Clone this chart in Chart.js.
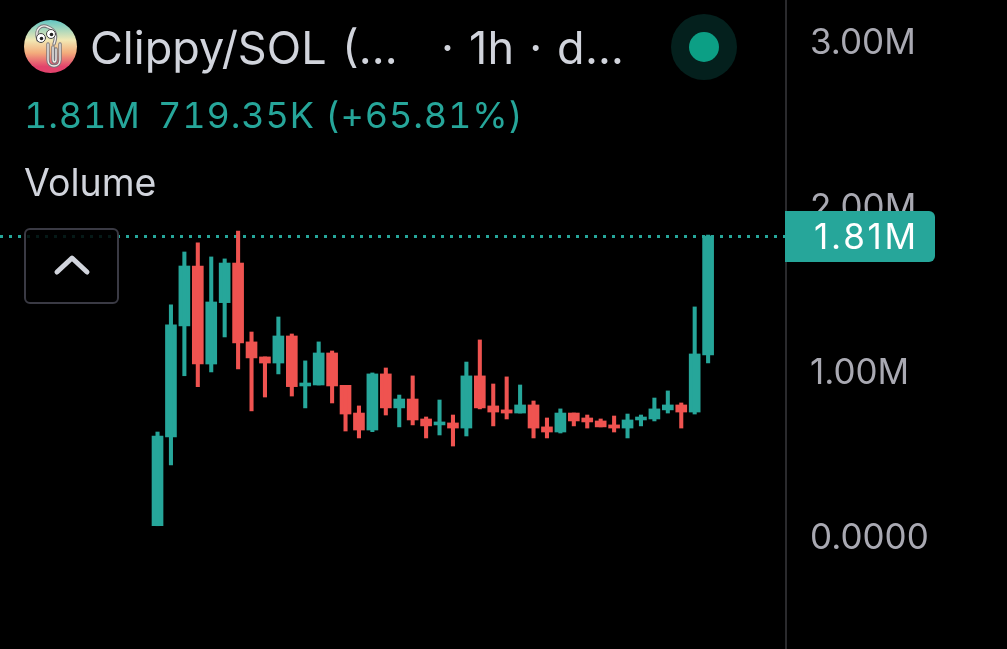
<!DOCTYPE html>
<html>
<head>
<meta charset="utf-8">
<title>Clippy/SOL Volume</title>
<script src="https://cdn.jsdelivr.net/npm/chart.js@4"></script>
<style>
    html, body { margin: 0; padding: 0; background: #000; }
    #wrap { position: relative; width: 1007px; height: 649px; overflow: hidden; font-family: Inter, sans-serif; }
    #chart { position: absolute; left: 0; top: 0; }
    .txt { position: absolute; white-space: nowrap; line-height: 1; }
    .title { color: #d1d4dc; font-size: 45px; top: 25px; }
    .stat { color: #26a69a; font-size: 36px; top: 97px; letter-spacing: 0.9px; font-feature-settings: 'tnum'; }
    #volume { left: 24px; top: 164px; color: #d1d4dc; font-size: 37.5px; }
    #logo { position: absolute; left: 24px; top: 20px; width: 53px; height: 53px; border-radius: 50%;
        background: linear-gradient(#62c6c4 0%, #f2e8b4 38%, #f3ad7c 62%, #e2436c 88%, #e2436c 100%); }
    #collapse { position: absolute; left: 24px; top: 228px; width: 91px; height: 72px; border: 2px solid #3a3a44;
        border-radius: 6px; background: rgba(0, 0, 0, 0.85); }
    #status { position: absolute; left: 671px; top: 14px; width: 66px; height: 66px; border-radius: 50%; background: #04201d; }
    #status div { position: absolute; left: 18px; top: 18px; width: 30px; height: 30px; border-radius: 50%; background: #0c9f85; }
</style>
</head>
<body>
<div id="wrap">
    <canvas id="chart" width="1007" height="649"></canvas>
    <div id="logo">
        <svg width="53" height="53" viewBox="0 0 53 53" fill="none" stroke-linecap="round">
            <g stroke="#77757a" stroke-width="3.4">
                <path d="M14 20 C10 8 18 4 24 7 C32 10 33 16 30 24"/>
                <path d="M24 24 L24 40 C24 48 36 48 36 40 L36 24"/>
                <path d="M29 27 L29 39 C29 43 32 43 32 39 L32 29"/>
            </g>
            <g stroke="#f1eeea" stroke-width="1.4">
                <path d="M14 20 C10 8 18 4 24 7 C32 10 33 16 30 24"/>
                <path d="M24 24 L24 40 C24 48 36 48 36 40 L36 24"/>
                <path d="M29 27 L29 39 C29 43 32 43 32 39 L32 29"/>
            </g>
            <circle cx="17" cy="18" r="4.5" fill="#fff" stroke="#444" stroke-width="1"/>
            <circle cx="27" cy="14" r="4.5" fill="#fff" stroke="#444" stroke-width="1"/>
            <circle cx="17.5" cy="18.5" r="1.8" fill="#222"/>
            <circle cx="27.5" cy="14.5" r="1.8" fill="#222"/>
        </svg>
    </div>
    <div class="txt title" style="left:90px; word-spacing:3px">Clippy/SOL (…</div>
    <div class="txt title" style="left:441px; word-spacing:1.5px; letter-spacing:0.4px">· 1h · d…</div>
    <div class="txt stat" style="left:24px">1.81M</div>
    <div class="txt stat" style="left:158px">719.35K (+65.81%)</div>
    <div class="txt" id="volume">Volume</div>
    <div id="collapse">
        <svg width="91" height="72" fill="none" stroke="#d1d4dc" stroke-width="5" stroke-linecap="round" stroke-linejoin="round">
            <path d="M31 42 L46 28 L61 42"/>
        </svg>
    </div>
    <div id="status"><div></div></div>
</div>
<script>
// volume candles, values in millions
var hours = [0, 1, 2, 3, 4, 5, 6, 7, 8, 9, 10, 11, 12, 13, 14, 15, 16, 17, 18, 19, 20,
    21, 22, 23, 24, 25, 26, 27, 28, 29, 30, 31, 32, 33, 34, 35, 36, 37, 38, 39, 40, 41];
var opens = [0.056, 0.594, 1.267, 1.630, 1.036, 1.408, 1.648, 1.170, 1.079, 1.042, 1.206,
    0.903, 0.909, 1.103, 0.907, 0.739, 0.636, 0.976, 0.770, 0.824, 0.703, 0.667, 0.679,
    0.648, 0.964, 0.782, 0.758, 0.739, 0.788, 0.655, 0.624, 0.739, 0.709, 0.691, 0.667,
    0.648, 0.697, 0.703, 0.758, 0.788, 0.745, 1.091];
var closes = [0.600, 1.273, 1.630, 1.036, 1.412, 1.648, 1.164, 1.073, 1.042, 1.206, 0.899,
    0.921, 1.103, 0.903, 0.733, 0.636, 0.976, 0.770, 0.824, 0.697, 0.661, 0.685, 0.648,
    0.964, 0.770, 0.745, 0.739, 0.788, 0.648, 0.624, 0.739, 0.691, 0.685, 0.655, 0.648,
    0.697, 0.715, 0.764, 0.788, 0.745, 1.097, 1.812];
var highs = [0.624, 1.394, 1.715, 1.770, 1.685, 1.673, 1.842, 1.230, 1.079, 1.321, 1.218,
    1.055, 1.170, 1.115, 0.907, 0.782, 0.982, 1.012, 0.848, 0.964, 0.715, 0.818, 0.727,
    1.048, 1.182, 0.915, 0.958, 0.909, 0.812, 0.709, 0.764, 0.739, 0.727, 0.703, 0.721,
    0.733, 0.727, 0.830, 0.873, 0.800, 1.382, 1.818];
var lows = [0.056, 0.424, 0.965, 0.899, 0.988, 1.200, 1.006, 0.752, 0.836, 0.976, 0.842,
    0.770, 0.909, 0.800, 0.630, 0.588, 0.626, 0.727, 0.655, 0.667, 0.588, 0.606, 0.539,
    0.600, 0.764, 0.661, 0.703, 0.739, 0.588, 0.588, 0.618, 0.661, 0.648, 0.655, 0.624,
    0.588, 0.661, 0.691, 0.739, 0.648, 0.733, 1.042];
var tickValues = [0, 1, 2, 3];
var tickLabels = ['0.0000', '1.00M', '2.00M', '3.00M'];
var lastLabel = '1.81M';

var upColor = '#26a69a';
var downColor = '#ef5350';

var barColors = closes.map(function (c, i) {
    return c >= opens[i] ? upColor : downColor;
});

// dotted last value line goes under the candles, the tag over the axis labels
var lastValuePlugin = {
    id: 'lastValue',
    beforeDatasetsDraw: function (chart) {
        var ctx = chart.ctx;
        var y = Math.round(chart.scales.y.getPixelForValue(closes[closes.length - 1])) + 0.5;
        ctx.save();
        ctx.strokeStyle = upColor;
        ctx.lineWidth = 3;
        ctx.setLineDash([3, 6]);
        ctx.beginPath();
        ctx.moveTo(0, y);
        ctx.lineTo(chart.chartArea.right, y);
        ctx.stroke();
        ctx.restore();
    },
    afterDraw: function (chart) {
        var ctx = chart.ctx;
        var y = chart.scales.y.getPixelForValue(closes[closes.length - 1]);
        ctx.save();
        ctx.fillStyle = upColor;
        ctx.beginPath();
        ctx.roundRect(785, y - 25, 150, 51, [0, 6, 6, 0]);
        ctx.fill();
        ctx.fillStyle = '#ffffff';
        ctx.font = '35px Inter';
        ctx.letterSpacing = '2.8px';
        ctx.textBaseline = 'middle';
        ctx.fillText(lastLabel, 814, y + 3);
        ctx.restore();
    }
};

var ctx = document.getElementById('chart').getContext('2d');
ctx.letterSpacing = '0.9px';
var volumeChart = new Chart(ctx, {
    type: 'bar',
    data: {
        datasets: [{
            label: 'Wick',
            data: hours.map(function (h, i) { return { x: h, y: [lows[i], highs[i]] }; }),
            backgroundColor: barColors,
            barThickness: 3.4
        }, {
            label: 'Volume',
            data: hours.map(function (h, i) { return { x: h, y: [opens[i], closes[i]] }; }),
            backgroundColor: barColors,
            barThickness: 11
        }]
    },
    options: {
        responsive: false,
        animation: false,
        layout: { padding: 0 },
        plugins: {
            legend: { display: false },
            tooltip: { enabled: false }
        },
        datasets: { bar: { grouped: false, borderWidth: 0 } },
        scales: {
            x: {
                type: 'linear',
                display: false,
                offset: false,
                min: -11.73,
                max: 46.8
            },
            y: {
                position: 'right',
                min: -0.691,
                max: 3.242,
                afterFit: function (scale) {
                    scale.width = 221;
                    scale.paddingTop = 0;
                    scale.paddingBottom = 0;
                },
                afterBuildTicks: function (scale) {
                    scale.ticks = tickValues.map(function (v) { return { value: v }; });
                },
                grid: { display: false, drawTicks: false },
                border: { display: true, color: '#2a2a2d', width: 2 },
                ticks: {
                    color: '#a9a9b2',
                    font: { family: 'Inter', size: 35 },
                    padding: 24,
                    labelOffset: 3.5,
                    callback: function (value, index) { return tickLabels[index]; }
                }
            }
        }
    },
    plugins: [lastValuePlugin]
});
</script>
</body>
</html>
